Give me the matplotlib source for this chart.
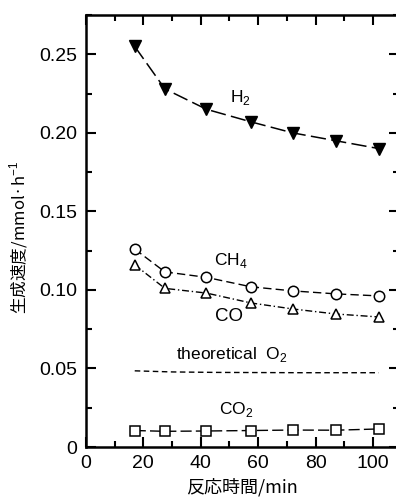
import matplotlib
matplotlib.use("Agg")
import matplotlib.pyplot as plt
from matplotlib.ticker import MultipleLocator

plt.rcParams['font.family'] = ['Liberation Sans', 'Noto Sans CJK JP', 'DejaVu Sans']
plt.rcParams['mathtext.fontset'] = 'custom'
plt.rcParams['mathtext.rm'] = 'Liberation Sans'

time = [17, 27.5, 42, 57.5, 72, 87, 102]
h2 = [0.255, 0.228, 0.215, 0.207, 0.200, 0.195, 0.190]
ch4 = [0.126, 0.1115, 0.108, 0.102, 0.0994, 0.0975, 0.0962]
co = [0.116, 0.101, 0.098, 0.0917, 0.0879, 0.0847, 0.0828]
co2 = [0.0105, 0.0100, 0.0102, 0.0105, 0.0108, 0.0107, 0.0115]
o2_time = [17, 30, 45, 60, 75, 90, 102]
o2_theor = [0.0485, 0.0478, 0.0475, 0.0474, 0.0473, 0.0473, 0.0473]

fig = plt.figure(figsize=(3.96, 5.03), dpi=100)
ax = fig.add_axes([0.217, 0.1113, 0.79, 0.8588])

ax.plot(time, h2, color='black', lw=1.1, dashes=(10, 3.5), zorder=2)
ax.plot(time, h2, linestyle='none', marker='v', ms=8, mfc='black', mec='black', zorder=3)

ax.plot(time, ch4, color='black', lw=1.0, dashes=(6, 3), zorder=2)
ax.plot(time, ch4, linestyle='none', marker='o', ms=7.5, mfc='white', mec='black', mew=1.1, zorder=3)

ax.plot(time, co, color='black', lw=1.0, dashes=(5, 2, 1, 2), zorder=2)
ax.plot(time, co, linestyle='none', marker='^', ms=7.5, mfc='white', mec='black', mew=1.1, zorder=3)

ax.plot(o2_time, o2_theor, color='black', lw=1.0, dashes=(4, 2.5), zorder=2)

ax.plot(time, co2, color='black', lw=1.0, dashes=(8, 3), zorder=2)
ax.plot(time, co2, linestyle='none', marker='s', ms=7, mfc='white', mec='black', mew=1.1, zorder=3)

ax.text(54, 0.2225, 'H$_2$', fontsize=12.5, ha='center', va='center')
ax.text(50.5, 0.119, 'CH$_4$', fontsize=12.5, ha='center', va='center')
ax.text(50, 0.083, 'CO', fontsize=13.5, ha='center', va='center')
ax.text(51, 0.0586, 'theoretical  O$_2$', fontsize=12.5, ha='center', va='center')
ax.text(52.5, 0.0236, 'CO$_2$', fontsize=12.5, ha='center', va='center')

ax.set_xlim(0, 109)
ax.set_ylim(0, 0.275)
ax.xaxis.set_minor_locator(MultipleLocator(10))
ax.yaxis.set_minor_locator(MultipleLocator(0.025))
ax.set_yticks([0, 0.05, 0.10, 0.15, 0.20, 0.25])
ax.set_yticklabels(['0', '0.05', '0.10', '0.15', '0.20', '0.25'])
ax.set_xticks([0, 20, 40, 60, 80, 100])
ax.set_xticklabels(['0', '20', '40', '60', '80', '100'])

ax.tick_params(which='both', direction='in', top=True, right=True, width=1.5, labelsize=14, pad=6)
ax.tick_params(which='major', length=7)
ax.tick_params(which='minor', length=4)
for s in ax.spines.values():
    s.set_linewidth(1.8)

ax.set_xlabel('反応時間/min', fontsize=13, family=['Noto Sans CJK JP', 'DejaVu Sans'], labelpad=4)
fig.text(0.048, 0.529, '生成速度/mmol·h$^{-1}$', fontsize=12, rotation=90,
         ha='center', va='center', family=['Noto Sans CJK JP', 'DejaVu Sans'])

fig.savefig('out.png', dpi=100)
